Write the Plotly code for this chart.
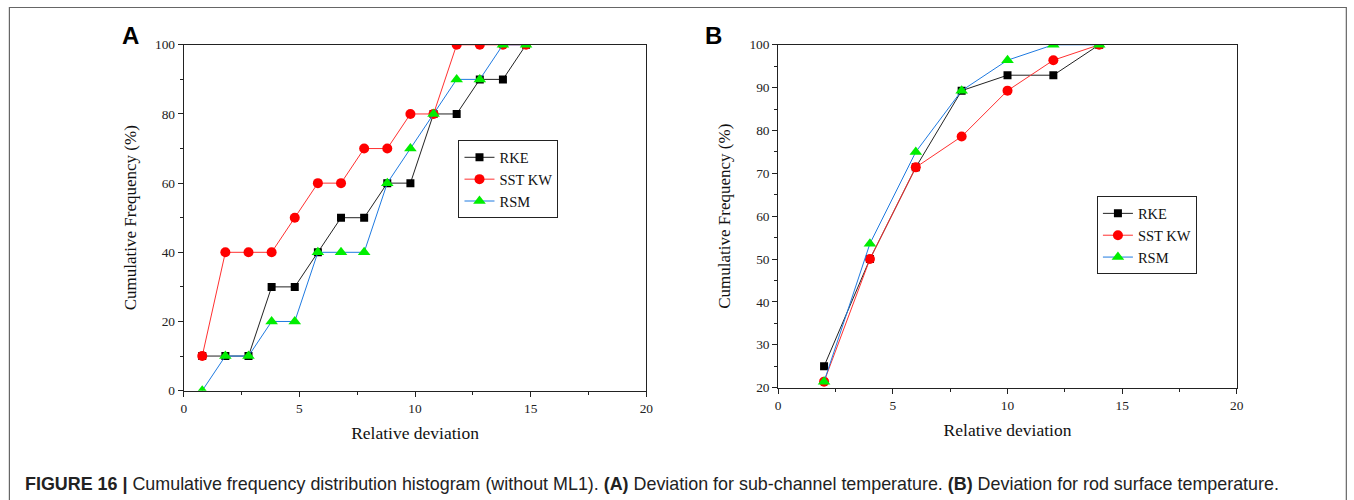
import plotly.graph_objects as go

W, H = 1354, 500
# the rendered page is shown slightly scaled/offset; these compensate so that
# reference pixel positions land where they should in the photographed page
SX, OXP = 0.9935, 2.1
SY = 0.969
PAGE_M = 8

# Panel A data
xa = [0.8, 1.8, 2.8, 3.8, 4.8, 5.8, 6.8, 7.8, 8.8, 9.8, 10.8, 11.8, 12.8, 13.8, 14.8]
a_rke = [10, 10, 10, 30, 30, 40, 50, 50, 60, 60, 80, 80, 90, 90, 100]
a_sst = [10, 40, 40, 40, 50, 60, 60, 70, 70, 80, 80, 100, 100, 100, 100]
a_rsm = [0, 10, 10, 20, 20, 40, 40, 40, 60, 70, 80, 90, 90, 100, 100]

# Panel B data
xb = [2, 4, 6, 8, 10, 12, 14]
b_rke = [25.0, 50.0, 71.4, 89.3, 92.9, 92.9, 100.0]
b_sst = [21.4, 50.0, 71.4, 78.6, 89.3, 96.4, 100.0]
b_rsm = [21.4, 53.6, 75.0, 89.3, 96.4, 100.0, 100.0]

series_names = ["RKE", "SST KW", "RSM"]
caption = ("<b>FIGURE 16 |</b> Cumulative frequency distribution histogram (without ML1). "
           "<b>(A)</b> Deviation for sub-channel temperature. "
           "<b>(B)</b> Deviation for rod surface temperature.")

line_cols = ["#222222", "#ff3030", "#1f7ae0"]
mk_cols = ["#000000", "#ff0000", "#00ee00"]
mk_sym = ["square", "circle", "triangle-up"]
mk_size = [8, 10, 11]


def px(x):
    return ((x - OXP) / SX) / W


def py(y):
    return 1 - (y / SY - PAGE_M) / H


fig = go.Figure()

for i, (name, ys) in enumerate(zip(series_names, [a_rke, a_sst, a_rsm])):
    fig.add_trace(go.Scatter(
        x=xa, y=ys, name=name, mode="lines+markers",
        line=dict(color=line_cols[i], width=1),
        marker=dict(symbol=mk_sym[i], color=mk_cols[i], size=mk_size[i]),
        xaxis="x", yaxis="y", legend="legend"))

for i, (name, ys) in enumerate(zip(series_names, [b_rke, b_sst, b_rsm])):
    fig.add_trace(go.Scatter(
        x=xb, y=ys, name=name, mode="lines+markers",
        line=dict(color=line_cols[i], width=1),
        marker=dict(symbol=mk_sym[i], color=mk_cols[i], size=mk_size[i]),
        xaxis="x2", yaxis="y2", legend="legend2"))

tickfont = dict(family="Liberation Serif", size=13.4, color="#222")


def xaxis_cfg(domain, anchor):
    return dict(domain=domain, anchor=anchor, range=[0, 20], tickvals=[0, 5, 10, 15, 20],
                ticks="outside", ticklen=5, tickcolor="#222", showline=True, linecolor="#222",
                linewidth=1, mirror=True, showgrid=False, zeroline=False, tickfont=tickfont,
                minor=dict(tickvals=[2.5, 7.5, 12.5, 17.5], ticks="outside", ticklen=3,
                           tickcolor="#222", showgrid=False),
                title=dict(text="Relative deviation",
                           font=dict(family="Liberation Serif", size=17.5, color="#111"),
                           standoff=12))


def yaxis_cfg(domain, anchor, rng, tv, mtv):
    return dict(domain=domain, anchor=anchor, range=rng, tickvals=tv,
                ticks="outside", ticklen=5, tickcolor="#222", showline=True, linecolor="#222",
                linewidth=1, mirror=True, showgrid=False, zeroline=False, tickfont=tickfont,
                minor=dict(tickvals=mtv, ticks="outside", ticklen=3, tickcolor="#222",
                           showgrid=False),
                title=dict(text="Cumulative Frequency (%)",
                           font=dict(family="Liberation Serif", size=17, color="#111"),
                           standoff=14))


legend_common = dict(xanchor="left", yanchor="top", bgcolor="white", bordercolor="#222",
                     borderwidth=1, font=dict(family="Liberation Serif", size=14.5, color="#111"),
                     tracegroupgap=0)

fig.update_layout(
    width=W, height=H, margin=dict(l=0, r=0, t=0, b=0),
    paper_bgcolor="white", plot_bgcolor="white",
    showlegend=True,
    xaxis=xaxis_cfg([px(183), px(646)], "y"),
    yaxis=yaxis_cfg([py(391), py(45.5)], "x", [0, 100], [0, 20, 40, 60, 80, 100],
                    [10, 30, 50, 70, 90]),
    xaxis2=xaxis_cfg([px(778), px(1237)], "y2"),
    yaxis2=yaxis_cfg([py(388), py(45.5)], "x2", [20, 100], [20, 30, 40, 50, 60, 70, 80, 90, 100],
                     [25, 35, 45, 55, 65, 75, 85, 95]),
    legend=dict(x=px(458), y=py(141), **legend_common),
    legend2=dict(x=px(1097), y=py(197), **legend_common),
    shapes=[dict(type="rect", xref="paper", yref="paper", x0=px(8.5), x1=0.9995,
                 y0=-0.05, y1=0.999, line=dict(color="#666", width=1.2))],
    annotations=[
        dict(text="<b>A</b>", x=px(130), y=py(36), xref="paper", yref="paper",
             xanchor="center", yanchor="middle",
             showarrow=False, font=dict(family="Liberation Sans", size=24, color="#000")),
        dict(text="<b>B</b>", x=px(713), y=py(36), xref="paper", yref="paper",
             xanchor="center", yanchor="middle",
             showarrow=False, font=dict(family="Liberation Sans", size=24, color="#000")),
        dict(text=caption, x=px(22), y=py(484), xref="paper", yref="paper",
             xanchor="left", yanchor="middle", showarrow=False,
             font=dict(family="Liberation Sans", size=17.9, color="#222")),
    ],
)

fig.write_html("out.html")
